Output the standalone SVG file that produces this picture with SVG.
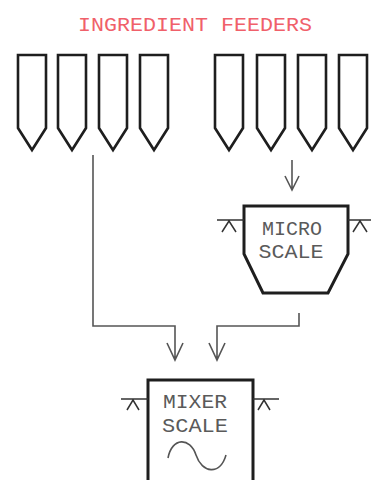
<svg xmlns="http://www.w3.org/2000/svg" width="371" height="480" viewBox="0 0 371 480">
<style>
.fd{fill:none;stroke:#1e1e1e;stroke-width:2.6;stroke-linejoin:miter}
.box{fill:#fff;stroke:#1e1e1e;stroke-width:3}
.ln{fill:none;stroke:#555;stroke-width:1.6}
.sym{fill:none;stroke:#333;stroke-width:1.5}
.lbl{font-family:"Liberation Mono",monospace;font-size:21px;fill:#5a5a5a;text-anchor:middle}
.ttl{font-family:"Liberation Mono",monospace;font-size:20px;fill:#f0606a;text-anchor:middle}
</style>
<defs>
<path id="feeder" d="M0,0 H28 V73 L14,95 L0,73 Z"/>
</defs>
<rect width="371" height="480" fill="#fff"/>
<text class="ttl" x="195" y="31" textLength="234" lengthAdjust="spacingAndGlyphs">INGREDIENT FEEDERS</text>
<g id="feeders">
<g id="feeder1"><use href="#feeder" class="fd" x="18" y="55"/></g>
<g id="feeder2"><use href="#feeder" class="fd" x="58" y="55"/></g>
<g id="feeder3"><use href="#feeder" class="fd" x="99" y="55"/></g>
<g id="feeder4"><use href="#feeder" class="fd" x="140" y="55"/></g>
<g id="feeder5"><use href="#feeder" class="fd" x="215" y="55"/></g>
<g id="feeder6"><use href="#feeder" class="fd" x="257" y="55"/></g>
<g id="feeder7"><use href="#feeder" class="fd" x="298" y="55"/></g>
<g id="feeder8"><use href="#feeder" class="fd" x="339" y="55"/></g>
</g>
<g id="connectors">
<path class="ln" d="M292,160 V190 M285,176 L292,190 L299,176"/>
<path class="ln" d="M93,155 V326 H175 V360 M167,343 L175,360 L183,343"/>
<path class="ln" d="M299,313 V326 H217 V360 M209,343 L217,360 L225,343"/>
</g>
<g id="micro-scale">
<path class="box" d="M244,206 H348 V254 L328,293 H263 L244,254 Z"/>
<path class="sym" d="M217,220 H244 M222,232 L229,221 L236,232"/>
<path class="sym" d="M348,220 H371 M353,232 L360,221 L367,232"/>
<text class="lbl" x="292" y="235" textLength="60" lengthAdjust="spacingAndGlyphs">MICRO</text>
<text class="lbl" x="291" y="258" textLength="65" lengthAdjust="spacingAndGlyphs">SCALE</text>
</g>
<g id="mixer-scale">
<path class="box" d="M148,482 V380 H253 V482"/>
<path class="sym" d="M121,399 H148 M127,410 L133,400 L139,410"/>
<path class="sym" d="M253,399 H279 M258,410 L264,400 L270,410"/>
<text class="lbl" x="195" y="408" textLength="64" lengthAdjust="spacingAndGlyphs">MIXER</text>
<text class="lbl" x="195" y="432" textLength="66" lengthAdjust="spacingAndGlyphs">SCALE</text>
<path class="ln" d="M168,458 C172,437 190,437 196,455 S220,476 226,455" stroke-width="1.8"/>
</g>
</svg>
